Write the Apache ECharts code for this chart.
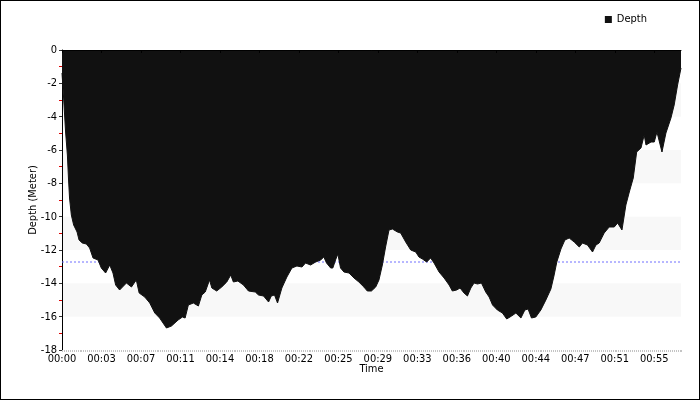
<!DOCTYPE html>
<html>
<head>
<meta charset="utf-8">
<script src="https://cdn.jsdelivr.net/npm/echarts@6/dist/echarts.min.js"></script>
<style>
html,body{margin:0;padding:0;background:#fff;}
#wrap{width:700px;height:400px;box-sizing:border-box;border:1px solid #000;}
#chart{width:698px;height:398px;}
</style>
</head>
<body>
<div id="wrap"><div id="chart"></div></div>
<script>
// Time since start (seconds)
const timeSec = [0,9,20,30,36,42,52,65,84,95,113,136,154,173,201,219,243,266,284,299,321,359,387,414,430,461,489,517,544,582,610,647,671,686,704,732,760,779,798,822,835,862,890,918,940,955,980,1011,1039,1077,1095,1123,1151,1166,1184,1201,1225,1253,1281,1309,1337,1357,1367,1385,1413,1441,1459,1474,1497,1509,1524,1537,1552,1571,1599,1627,1654,1682,1701,1724,1748,1766,1785,1803,1822,1841,1869,1887,1915,1943,1971,1989,2008,2032,2054,2073,2101,2129,2157,2175,2199,2218,2240,2259,2278,2296,2315,2337,2361,2380,2399,2426,2454,2478,2505,2529,2557,2579,2597,2616,2640,2668,2696,2724,2741,2757,2780,2802,2826,2854,2882,2900,2928,2956,2975,2993,3021,3049,3077,3096,3120,3142,3161,3183,3202,3226,3244,3254,3282,3300,3315,3343,3365,3393,3411,3430,3449];
// Depth (meters)
const depthM = [-1.38,-2.88,-4.92,-6.30,-7.68,-8.88,-9.90,-10.50,-10.92,-11.40,-11.58,-11.64,-11.88,-12.48,-12.60,-13.08,-13.38,-12.90,-13.38,-14.10,-14.40,-13.98,-14.22,-13.80,-14.58,-14.82,-15.18,-15.78,-16.08,-16.68,-16.56,-16.20,-16.02,-16.08,-15.30,-15.18,-15.36,-14.70,-14.52,-13.80,-14.28,-14.46,-14.22,-13.92,-13.50,-13.92,-13.86,-14.10,-14.46,-14.52,-14.70,-14.76,-15.12,-14.76,-14.70,-15.18,-14.28,-13.62,-13.08,-12.96,-13.02,-12.78,-12.72,-12.90,-12.72,-12.60,-12.42,-12.78,-13.08,-13.08,-12.60,-12.24,-13.08,-13.32,-13.38,-13.68,-13.92,-14.22,-14.46,-14.46,-14.22,-13.80,-12.90,-11.82,-10.80,-10.74,-10.92,-10.98,-11.52,-12.00,-12.12,-12.42,-12.54,-12.72,-12.48,-12.78,-13.32,-13.68,-14.10,-14.46,-14.40,-14.28,-14.58,-14.76,-14.28,-13.98,-14.04,-13.98,-14.52,-14.82,-15.30,-15.60,-15.78,-16.14,-15.96,-15.78,-16.08,-15.60,-15.54,-16.08,-16.02,-15.60,-15.00,-14.34,-13.56,-12.72,-11.94,-11.40,-11.28,-11.52,-11.82,-11.58,-11.70,-12.12,-11.70,-11.58,-10.98,-10.62,-10.62,-10.38,-10.80,-9.30,-8.52,-7.68,-6.12,-5.88,-5.10,-5.70,-5.52,-5.52,-4.92,-6.12,-4.98,-4.08,-3.30,-2.10,-1.08];
const avgDepth = -12.72;
const xTickLabels = ['00:00','00:03','00:07','00:11','00:14','00:18','00:22','00:25','00:29','00:33','00:36','00:40','00:44','00:47','00:51','00:55'];
const xTickStep = 220;
const xMinorStep = 11;

const FONT = "'DejaVu Sans Condensed','DejaVu Sans',sans-serif";
const depthData = timeSec.map((t, i) => [t, depthM[i]]);
const tEnd = timeSec[timeSec.length - 1];

const chart = echarts.init(document.getElementById('chart'), null, {renderer: 'canvas'});
chart.setOption({
  animation: false,
  backgroundColor: '#fff',
  textStyle: {fontFamily: FONT},
  legend: {
    data: ['Depth'],
    right: 47,
    top: 8,
    icon: 'rect',
    itemWidth: 7,
    itemHeight: 7,
    itemGap: 4,
    textStyle: {fontSize: 11, color: '#000', fontFamily: FONT}
  },
  grid: {left: 61, right: 18, top: 49, bottom: 49, containLabel: false},
  xAxis: [{
    type: 'value',
    min: 0,
    max: tEnd,
    interval: xTickStep,
    name: 'Time',
    nameLocation: 'middle',
    nameGap: 14,
    nameMoveOverlap: false,
    nameTextStyle: {fontSize: 11, color: '#000', fontFamily: FONT},
    axisLine: {show: true, lineStyle: {color: '#000', width: 1}},
    axisTick: {show: true, length: 3, lineStyle: {color: '#000'}},
    axisLabel: {
      fontSize: 11, color: '#000', margin: 4, fontFamily: FONT,
      showMaxLabel: false,
      formatter: function (v) {
        const idx = Math.round(v / xTickStep);
        return (Math.abs(idx * xTickStep - v) < 1e-6 && xTickLabels[idx] !== undefined) ? xTickLabels[idx] : '';
      }
    },
    splitLine: {show: false},
    splitArea: {show: false},
    z: 5
  }, {
    type: 'value',
    position: 'bottom',
    min: 0,
    max: tEnd,
    interval: xMinorStep,
    axisLine: {show: false},
    axisTick: {show: true, length: 2, lineStyle: {color: '#c4c4c4', width: 1}},
    axisLabel: {show: false},
    splitLine: {show: false},
    splitArea: {show: false},
    z: 4
  }],
  yAxis: {
    type: 'value',
    min: -18,
    max: 0,
    interval: 2,
    name: 'Depth (Meter)',
    nameLocation: 'middle',
    nameGap: 23,
    nameMoveOverlap: false,
    nameTextStyle: {fontSize: 11, color: '#000', fontFamily: FONT},
    axisLine: {show: true, lineStyle: {color: '#000', width: 1}},
    axisTick: {show: true, length: 3, lineStyle: {color: '#333'}},
    minorTick: {show: true, splitNumber: 2, length: 3, lineStyle: {color: '#e00000'}},
    axisLabel: {fontSize: 11, color: '#000', margin: 5, fontFamily: FONT},
    splitLine: {show: false},
    splitArea: {show: true, areaStyle: {color: ['rgba(255,255,255,0)', '#f8f8f8']}}
  },
  series: [
    {
      name: 'Average',
      type: 'line',
      xAxisIndex: 0,
      z: 1,
      silent: true,
      symbol: 'none',
      data: [[0, avgDepth], [tEnd, avgDepth]],
      lineStyle: {color: '#6f6fff', width: 1, type: [2, 2]}
    },
    {
      name: 'Depth',
      type: 'line',
      xAxisIndex: 0,
      z: 3,
      symbol: 'none',
      data: depthData,
      color: '#111111',
      lineStyle: {color: '#111111', width: 1},
      areaStyle: {color: '#111111', opacity: 1}
    }
  ]
});
</script>
</body>
</html>
